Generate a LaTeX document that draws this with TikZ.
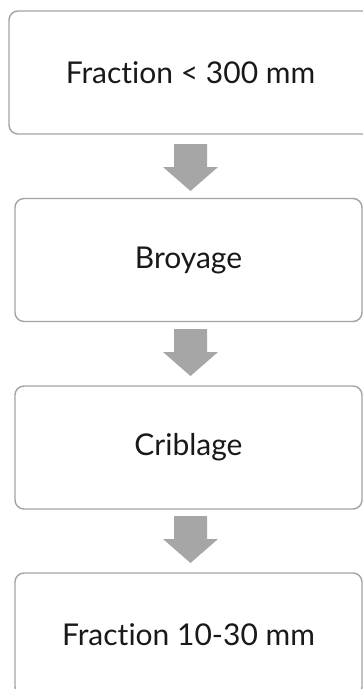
\documentclass[tikz,border=0pt]{standalone}
\usepackage{fontspec}
\setmainfont{Lato}[Ligatures=NoCommon]
\definecolor{boxline}{HTML}{A3A3A3}
\definecolor{arrowfill}{HTML}{A6A6A6}
\begin{document}
\begin{tikzpicture}[x=1pt,y=-1pt,
  stepbox/.style={draw=boxline, line width=1.4pt, rounded corners=9pt,
    fill=white, font=\fontsize{30}{34}\selectfont, text=black!90,
    inner sep=0pt, minimum height=123pt},
  blockarrow/.style={fill=arrowfill, draw=none}]
  \useasboundingbox (0,0) rectangle (363,689);
  \clip (0,0) rectangle (363,689);

  % process steps
  \node[stepbox, minimum width=363pt] (frac) at (190.5,72.5) {Fraction < 300 mm};
  \node[stepbox, minimum width=347pt] (broy) at (188.5,260) {Broyage};
  \node[stepbox, minimum width=347pt] (crib) at (188.5,447.5) {Criblage};
  \node[stepbox, minimum width=347pt] (fin) at (188.5,634.5) {Fraction 10-30 mm};

  % block arrows between steps
  \foreach \t in {144, 329, 516}{
    \fill[blockarrow] (174,\t) -- (207,\t) -- (207,\t+23) -- (218,\t+23)
      -- (190.5,\t+47) -- (163,\t+23) -- (174,\t+23) -- cycle;
  }
\end{tikzpicture}
\end{document}
